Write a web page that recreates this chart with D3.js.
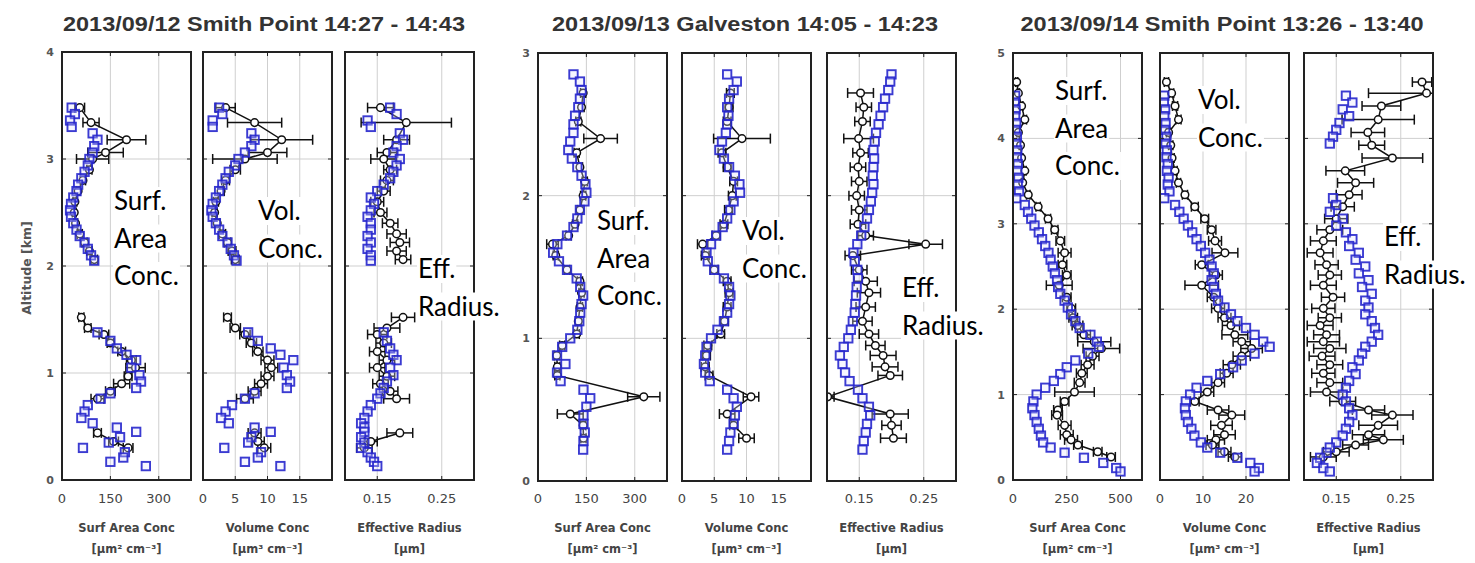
<!DOCTYPE html>
<html><head><meta charset="utf-8">
<script src="https://cdn.jsdelivr.net/npm/d3@7"></script>
<style>body{margin:0;background:#fff}</style></head>
<body><svg id="c" width="1475" height="563"></svg>
<script>
// ---------------- DATA ----------------
const titles = ["2013/09/12 Smith Point 14:27 - 14:43", "2013/09/13 Galveston 14:05 - 14:23", "2013/09/14 Smith Point 13:26 - 13:40"];
const altMax = [4, 3, 5];
const yTicks = [[0,1,2,3,4],[0,1,2,3],[0,1,2,3,4,5]];
const saDomain = [[0,400],[0,400],[0,600]];
const volDomain = [[0,20],[0,20],[0,30]];
const reffDomain = [[0.1,0.3],[0.1,0.3],[0.1,0.3]];
const saTicks = [[0,150,300],[0,150,300],[0,250,500]];
const volTicks = [[0,5,10,15],[0,5,10,15],[0,10,20]];
const reffTicks = [[0.15,0.25],[0.15,0.25],[0.15,0.25]];
const xLabels = ["Surf Area Conc", "Volume Conc", "Effective Radius"];
const xUnits = ["[\u03bcm\u00b2 cm\u207b\u00b3]", "[\u03bcm\u00b3 cm\u207b\u00b3]", "[\u03bcm]"];
const yLabel = "Altitude [km]";
const noteLines = [["Surf.","Area","Conc."],["Vol.","Conc."],["Eff.","Radius."]];

// Group 1 (2013/09/12)
const g1BlueAlt = [3.48,3.42,3.36,3.30,3.24,3.18,3.12,3.06,3.00,2.94,2.88,2.82,2.76,2.70,2.64,2.58,2.52,2.46,2.40,2.34,2.28,2.22,2.16,2.10,2.05,1.38,1.30,1.23,1.17,1.12,1.05,0.98,0.92,0.86,0.81,0.76,0.70,0.64,0.58,0.53,0.49,0.45,0.40,0.35,0.30,0.26,0.21,0.17,0.13];
const g1BlueSA = [30,40,25,30,95,110,100,95,85,80,70,60,50,45,35,28,25,28,35,45,55,70,80,90,100,110,150,170,200,230,215,240,245,230,150,120,80,70,60,95,170,230,180,145,65,195,190,150,260];
const g1BlueVol = [2.5,3.0,1.5,1.5,7.5,8.0,7.5,6.5,5.5,5.0,4.0,3.5,3.0,2.5,2.0,1.5,1.3,1.5,2.0,2.5,3.0,3.8,4.3,4.8,5.2,7.0,8.5,10.5,12.0,14.0,12.5,13.0,13.5,13.0,8.0,6.5,4.5,3.5,2.8,4.0,8.0,10.5,7.5,7.0,3.3,9.0,8.5,6.5,12.0];
const g1BlueReff = [0.17,0.18,0.135,0.14,0.185,0.19,0.18,0.175,0.185,0.18,0.175,0.17,0.16,0.15,0.14,0.145,0.14,0.135,0.14,0.14,0.135,0.14,0.135,0.14,0.14,0.16,0.165,0.17,0.175,0.18,0.17,0.175,0.165,0.16,0.155,0.15,0.14,0.135,0.13,0.125,0.13,0.13,0.125,0.13,0.125,0.135,0.14,0.145,0.15];
const g1BlackAlt = [3.48,3.34,3.18,3.06,3.00,2.90,2.80,2.70,2.60,2.50,2.40,2.30,2.22,2.14,2.06,1.52,1.42,1.36,1.28,1.20,1.12,1.05,0.97,0.90,0.83,0.76,0.44,0.36,0.30];
const g1BlackSA = [55,90,200,135,95,85,65,50,40,38,42,55,70,85,100,60,80,130,150,185,215,228,205,185,150,110,110,160,205];
const g1BlackSAErr = [15,25,60,55,50,8,8,6,6,6,6,8,8,8,10,8,10,15,10,12,15,30,12,25,15,20,12,15,15];
const g1BlackVol = [3.5,8.0,12.2,10.0,6.5,5.0,3.5,2.8,2.0,1.8,2.2,3.0,3.8,4.5,5.0,3.8,5.0,6.5,7.5,8.5,10.0,10.6,10.0,9.0,8.0,6.5,8.0,8.5,9.5];
const g1BlackVolErr = [1.5,4.2,4.8,3.0,5.0,0.8,0.6,0.5,0.4,0.4,0.4,0.5,0.5,0.6,0.6,0.6,0.8,0.8,0.8,0.8,1.0,1.0,1.0,1.0,1.0,1.3,1.0,1.0,1.0];
const g1BlackReff = [0.155,0.195,0.18,0.165,0.16,0.17,0.165,0.16,0.15,0.155,0.17,0.18,0.185,0.18,0.19,0.19,0.165,0.15,0.16,0.15,0.165,0.15,0.165,0.155,0.17,0.18,0.185,0.14,0.13];
const g1BlackReffErr = [0.02,0.07,0.02,0.015,0.02,0.01,0.01,0.01,0.01,0.01,0.012,0.015,0.015,0.015,0.012,0.018,0.02,0.015,0.012,0.012,0.012,0.012,0.012,0.012,0.012,0.02,0.02,0.01,0.012];

// Group 2 (2013/09/13)
const g2BlueAlt = [2.85,2.80,2.74,2.68,2.62,2.56,2.50,2.44,2.38,2.32,2.26,2.20,2.14,2.08,2.02,1.96,1.90,1.84,1.78,1.72,1.66,1.60,1.54,1.48,1.42,1.36,1.30,1.24,1.18,1.12,1.06,1.00,0.94,0.88,0.82,0.76,0.70,0.64,0.58,0.52,0.46,0.40,0.34,0.28,0.22];
const g2BlueSA = [110,130,135,130,125,115,110,110,100,94,105,122,135,147,150,144,130,122,110,90,60,47,65,90,120,131,140,135,131,128,122,100,75,59,85,59,70,141,162,150,141,141,145,141,140];
const g2BlueVol = [7.0,8.5,8.0,7.3,7.0,7.2,7.0,6.8,6.2,5.8,6.5,7.3,8.2,8.9,9.0,8.0,7.5,7.0,6.3,5.3,4.5,3.8,4.0,5.0,6.5,7.3,7.5,7.3,7.0,6.5,5.5,4.5,3.8,3.6,3.4,3.6,4.3,7.0,8.0,8.5,8.2,8.0,7.5,7.3,7.0];
const g2BlueReff = [0.200,0.198,0.195,0.190,0.187,0.183,0.180,0.176,0.174,0.172,0.173,0.172,0.171,0.172,0.170,0.168,0.165,0.162,0.158,0.153,0.147,0.141,0.143,0.147,0.148,0.146,0.145,0.144,0.143,0.140,0.137,0.133,0.126,0.120,0.124,0.128,0.135,0.148,0.155,0.165,0.167,0.162,0.160,0.157,0.155];
const g2BlackAlt = [2.72,2.62,2.52,2.40,2.30,2.20,2.10,2.00,1.90,1.80,1.72,1.66,1.58,1.48,1.40,1.32,1.22,1.12,1.03,0.95,0.88,0.80,0.74,0.59,0.47,0.39,0.30];
const g2BlackSA = [140,135,125,194,120,130,145,140,130,115,95,45,55,90,130,135,130,125,120,75,58,60,60,328,100,140,141];
const g2BlackSAErr = [8,8,8,52,8,8,8,8,8,8,8,18,8,8,8,8,8,8,8,8,8,8,8,50,40,8,8];
const g2BlackVol = [7.5,7.3,7.0,9.3,6.2,7.0,8.0,7.8,7.2,6.5,5.3,3.2,3.6,5.0,7.0,7.3,7.0,6.6,6.0,4.0,3.8,3.6,4.2,10.7,7.0,8.0,10.0];
const g2BlackVolErr = [0.6,0.6,0.6,4.4,0.6,0.6,0.6,0.6,0.6,0.6,0.6,0.8,0.6,0.6,0.6,0.6,0.6,0.6,0.6,0.6,0.6,0.6,0.6,1.2,1.2,0.6,1.2];
const g2BlackReff = [0.152,0.157,0.155,0.149,0.152,0.148,0.150,0.146,0.150,0.148,0.160,0.253,0.140,0.150,0.160,0.165,0.160,0.155,0.165,0.175,0.187,0.190,0.198,0.101,0.198,0.200,0.203];
const g2BlackReffErr = [0.02,0.012,0.012,0.023,0.012,0.012,0.012,0.012,0.012,0.012,0.012,0.026,0.012,0.012,0.018,0.018,0.015,0.015,0.015,0.015,0.02,0.02,0.019,0.01,0.028,0.015,0.02];

// Group 3 (2013/09/14)
const g3BlueAlt = [4.50,4.42,4.34,4.26,4.18,4.10,4.02,3.94,3.86,3.78,3.70,3.62,3.54,3.46,3.38,3.30,3.22,3.14,3.06,2.98,2.90,2.82,2.74,2.66,2.58,2.50,2.42,2.34,2.26,2.18,2.10,2.02,1.94,1.86,1.78,1.70,1.62,1.56,1.48,1.40,1.32,1.24,1.16,1.08,1.00,0.92,0.84,0.76,0.68,0.60,0.52,0.44,0.38,0.32,0.26,0.20,0.14,0.10];
const g3BlueSA = [10,8,12,10,15,12,18,15,20,18,22,20,25,22,28,15,55,70,85,100,120,135,150,165,175,185,195,205,210,220,240,255,270,290,310,360,390,400,350,290,250,220,190,150,110,95,90,100,110,120,130,140,175,240,330,420,480,500];
const g3BlueVol = [1.0,0.9,1.2,1.0,1.3,1.2,1.5,1.3,1.6,1.5,1.8,1.6,2.0,1.8,2.2,1.0,3.5,4.5,5.5,6.5,7.5,8.5,9.5,10.5,11.5,12.0,12.5,12.0,12.5,13.0,13.5,15.0,16.5,18.0,20.0,22.0,24.0,25.5,22.0,19.0,17.0,14.0,11.0,8.5,7.0,6.0,5.8,6.0,6.5,7.3,8.0,9.5,11.0,14.0,18.0,21.0,23.0,22.0];
const g3BlueReff = [0.165,0.175,0.160,0.170,0.155,0.150,0.145,0.140,null,null,null,null,null,null,null,0.145,0.150,0.140,0.160,0.150,0.165,0.175,0.170,0.185,0.180,0.195,0.185,0.200,0.190,0.205,0.195,0.200,0.195,0.205,0.210,0.215,0.205,0.195,0.190,0.185,0.175,0.180,0.170,0.165,0.160,0.165,0.170,0.175,0.170,0.165,0.160,0.150,0.140,0.135,0.125,0.120,0.130,0.140];
const g3BlackAlt = [4.66,4.53,4.38,4.22,4.07,3.92,3.77,3.62,3.48,3.34,3.20,3.06,2.93,2.80,2.66,2.52,2.40,2.28,2.14,2.01,1.90,1.81,1.70,1.62,1.54,1.45,1.35,1.25,1.14,1.03,0.92,0.82,0.76,0.64,0.53,0.47,0.41,0.33,0.27];
const g3BlackSA = [17,25,40,55,25,35,40,55,45,71,117,163,194,220,240,230,250,215,250,271,280,300,330,378,411,370,347,320,310,286,240,209,205,240,250,270,302,394,456];
const g3BlackSAErr = [5,5,6,8,6,6,6,6,6,8,10,12,15,20,30,20,20,60,20,20,20,25,30,77,85,30,30,25,25,92,20,20,25,30,30,30,20,20,20];
const g3BlackVol = [1.5,2.7,3.5,4.3,2.0,2.5,2.8,3.5,4.3,5.8,8.1,10.4,12.0,12.8,15.1,9.7,13.0,9.7,12.5,13.5,15.0,16.5,17.4,19.0,21.3,19.0,16.7,15.5,13.5,11.0,8.1,13.5,16.7,14.3,15.0,13.0,12.2,15.0,17.4];
const g3BlackVolErr = [0.5,0.5,0.6,0.6,0.5,0.5,0.5,0.5,0.5,0.6,0.8,0.9,1.0,1.5,3.0,1.5,1.5,3.9,1.5,1.5,1.5,2.0,3.0,2.0,2.5,2.0,2.0,1.5,1.5,1.5,1.0,2.5,3.0,2.5,2.5,2.0,1.5,1.5,1.5];
const g3BlackReff = [0.283,0.290,0.220,0.215,0.199,0.205,0.237,0.164,0.180,0.170,0.160,0.150,0.140,0.130,0.125,0.135,0.140,0.130,0.145,0.130,0.140,0.125,0.135,0.130,0.140,0.128,0.140,0.130,0.140,0.135,0.160,0.200,0.237,0.215,0.200,0.223,0.180,0.150,0.130];
const g3BlackReffErr = [0.015,0.09,0.03,0.056,0.026,0.02,0.047,0.03,0.028,0.02,0.018,0.018,0.02,0.02,0.02,0.018,0.018,0.02,0.018,0.018,0.018,0.02,0.02,0.025,0.025,0.02,0.02,0.018,0.02,0.025,0.02,0.025,0.032,0.03,0.025,0.031,0.02,0.02,0.02];

// ---------------- LAYOUT ----------------
const layout = [
  {lefts:[62,203,345], top:52, bottom:480, titleX:264, titleLen:402,
   notes:[{x:114,y:210},{x:258,y:220},{x:418,y:278}]},
  {lefts:[538,682,827], top:53, bottom:481, titleX:745, titleLen:386,
   notes:[{x:597,y:230},{x:742,y:240},{x:902,y:297}]},
  {lefts:[1013,1160,1304], top:53, bottom:480, titleX:1222, titleLen:403,
   notes:[{x:1055,y:100},{x:1198,y:109},{x:1384,y:246}]}
];
const panelW = 129, lineGap = 37.5;

const groups = [
  {blueAlt:g1BlueAlt, blue:[g1BlueSA,g1BlueVol,g1BlueReff], blackAlt:g1BlackAlt,
   black:[g1BlackSA,g1BlackVol,g1BlackReff], err:[g1BlackSAErr,g1BlackVolErr,g1BlackReffErr]},
  {blueAlt:g2BlueAlt, blue:[g2BlueSA,g2BlueVol,g2BlueReff], blackAlt:g2BlackAlt,
   black:[g2BlackSA,g2BlackVol,g2BlackReff], err:[g2BlackSAErr,g2BlackVolErr,g2BlackReffErr]},
  {blueAlt:g3BlueAlt, blue:[g3BlueSA,g3BlueVol,g3BlueReff], blackAlt:g3BlackAlt,
   black:[g3BlackSA,g3BlackVol,g3BlackReff], err:[g3BlackSAErr,g3BlackVolErr,g3BlackReffErr]}
];

const svg = d3.select('#c');
const defs = svg.append('defs');
const gridCol = '#cfcfcf';

groups.forEach((G, gi) => {
  const L = layout[gi];
  const y = d3.scaleLinear().domain([0, altMax[gi]]).range([L.bottom, L.top]);
  const domains = [saDomain[gi], volDomain[gi], reffDomain[gi]];
  const ticks = [saTicks[gi], volTicks[gi], reffTicks[gi]];
  const fmts = [d3.format('d'), d3.format('d'), d3.format('.2f')];

  svg.append('text').attr('x', L.titleX).attr('y', 31).attr('text-anchor','middle')
    .attr('font-family','Liberation Sans, Arial, sans-serif').attr('font-weight','bold')
    .attr('font-size', 20).attr('fill','#333')
    .attr('textLength', L.titleLen).attr('lengthAdjust','spacingAndGlyphs')
    .text(titles[gi]);

  for (let p = 0; p < 3; p++) {
    const x0 = L.lefts[p], x1 = x0 + panelW;
    const x = d3.scaleLinear().domain(domains[p]).range([x0, x1]);
    const g = svg.append('g');
    const cid = `clip${gi}_${p}`;
    defs.append('clipPath').attr('id', cid).append('rect')
      .attr('x', x0).attr('y', L.top).attr('width', panelW).attr('height', L.bottom - L.top);

    g.append('g').selectAll('line').data(yTicks[gi]).join('line')
      .attr('x1', x0).attr('x2', x1).attr('y1', d => y(d)).attr('y2', d => y(d))
      .attr('stroke', gridCol).attr('stroke-width', 1);
    g.append('g').selectAll('line').data(ticks[p]).join('line')
      .attr('x1', d => x(d)).attr('x2', d => x(d)).attr('y1', L.top).attr('y2', L.bottom)
      .attr('stroke', gridCol).attr('stroke-width', 1);

    const dg = g.append('g').attr('clip-path', `url(#${cid})`);

    // black series
    const pts = G.blackAlt.map((a, i) => ({a, v: G.black[p][i], e: G.err[p][i]}));
    const segs = [];
    pts.forEach((d, i) => {
      if (i === 0 || pts[i-1].a - d.a > 0.3) segs.push([]);
      segs[segs.length - 1].push(d);
    });
    const line = d3.line().x(d => x(d.v)).y(d => y(d.a));
    dg.selectAll('path').data(segs).join('path')
      .attr('d', line).attr('fill','none').attr('stroke','#111').attr('stroke-width', 1.5);
    const eb = dg.append('g').attr('stroke','#111').attr('stroke-width', 1.5);
    eb.selectAll('line.h').data(pts).join('line').attr('class','h')
      .attr('x1', d => x(d.v - d.e)).attr('x2', d => x(d.v + d.e))
      .attr('y1', d => y(d.a)).attr('y2', d => y(d.a));
    eb.selectAll('line.cl').data(pts).join('line').attr('class','cl')
      .attr('x1', d => x(d.v - d.e)).attr('x2', d => x(d.v - d.e))
      .attr('y1', d => y(d.a) - 5).attr('y2', d => y(d.a) + 5);
    eb.selectAll('line.cr').data(pts).join('line').attr('class','cr')
      .attr('x1', d => x(d.v + d.e)).attr('x2', d => x(d.v + d.e))
      .attr('y1', d => y(d.a) - 5).attr('y2', d => y(d.a) + 5);
    dg.append('g').selectAll('circle').data(pts).join('circle')
      .attr('cx', d => x(d.v)).attr('cy', d => y(d.a)).attr('r', 3.8)
      .attr('fill','#fff').attr('stroke','#111').attr('stroke-width', 1.5);

    // blue series
    const bpts = G.blueAlt.map((a, i) => ({a, v: G.blue[p][i]})).filter(d => d.v !== null);
    dg.append('g').selectAll('rect').data(bpts).join('rect')
      .attr('x', d => x(d.v) - 4.2).attr('y', d => y(d.a) - 4.2)
      .attr('width', 8.4).attr('height', 8.4)
      .attr('fill','rgba(225,225,255,0.3)').attr('stroke','#2626cc').attr('stroke-opacity', 0.9)
      .attr('stroke-width', 1.9);

    g.append('rect').attr('x', x0).attr('y', L.top).attr('width', panelW).attr('height', L.bottom - L.top)
      .attr('fill','none').attr('stroke','#222').attr('stroke-width', 2);

    const tk = g.append('g').attr('stroke','#222').attr('stroke-width', 1);
    ticks[p].forEach(t => {
      tk.append('line').attr('x1', x(t)).attr('x2', x(t)).attr('y1', L.bottom).attr('y2', L.bottom - 4);
      tk.append('line').attr('x1', x(t)).attr('x2', x(t)).attr('y1', L.top).attr('y2', L.top + 4);
    });
    yTicks[gi].forEach(t => {
      tk.append('line').attr('x1', x0).attr('x2', x0 + 4).attr('y1', y(t)).attr('y2', y(t));
      tk.append('line').attr('x1', x1).attr('x2', x1 - 4).attr('y1', y(t)).attr('y2', y(t));
    });

    g.append('g').selectAll('text').data(ticks[p]).join('text')
      .attr('x', d => x(d)).attr('y', 503).attr('text-anchor','middle')
      .attr('font-family','DejaVu Sans, sans-serif').attr('font-size', 13).attr('fill','#444')
      .text(d => fmts[p](d));

    const cx = (x0 + x1) / 2;
    g.append('text').attr('x', cx).attr('y', 532).attr('text-anchor','middle')
      .attr('font-family','DejaVu Sans, sans-serif').attr('font-size', 11.5).attr('font-weight','bold')
      .attr('fill','#444').text(xLabels[p]);
    g.append('text').attr('x', cx).attr('y', 553).attr('text-anchor','middle')
      .attr('font-family','DejaVu Sans, sans-serif').attr('font-size', 11.5).attr('font-weight','bold')
      .attr('fill','#444').text(xUnits[p]);

    if (p === 0) {
      g.append('g').selectAll('text').data(yTicks[gi]).join('text')
        .attr('x', x0 - 8).attr('y', d => y(d) + 4).attr('text-anchor','end')
        .attr('font-family','DejaVu Sans, sans-serif').attr('font-size', 11).attr('font-weight','bold')
        .attr('fill','#555').text(d => d);
    }
  }
});

svg.append('text').attr('transform','translate(31,268) rotate(-90)').attr('text-anchor','middle')
  .attr('font-family','DejaVu Sans, sans-serif').attr('font-size', 12.5).attr('font-weight','bold')
  .attr('fill','#555').text(yLabel);

const noteLayer = svg.append('g');
layout.forEach(L => {
  L.notes.forEach((n, k) => {
    noteLines[k].forEach((s, j) => {
      const t = noteLayer.append('text').attr('x', n.x).attr('y', n.y + j * lineGap)
        .attr('font-family','Lato, sans-serif').attr('font-size', 26).attr('fill','#000').text(s);
      const bb = t.node().getBBox();
      noteLayer.insert('rect', () => t.node())
        .attr('x', bb.x - 1).attr('y', bb.y + 3).attr('width', bb.width + 2).attr('height', bb.height - 4)
        .attr('fill','#fff');
    });
  });
});
</script>
</body></html>
